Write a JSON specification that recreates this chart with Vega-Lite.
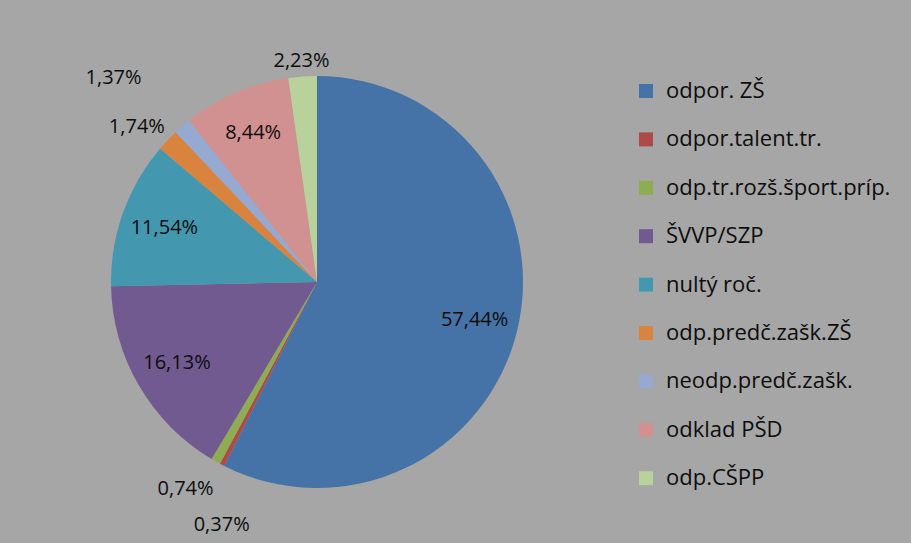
{
  "$schema": "https://vega.github.io/schema/vega-lite/v6.json",
  "autosize": {"type": "none"},
  "width": 616,
  "height": 522,
  "padding": {"left": 9, "top": 21, "right": 286, "bottom": 0},
  "background": "#a6a6a6",
  "config": {"view": {"stroke": null}, "font": "Open Sans"},
  "data": {
    "values": [
      {"idx": 1, "kat": "odpor. ZŠ", "pct": 57.44, "label": "57,44%"},
      {"idx": 2, "kat": "odpor.talent.tr.", "pct": 0.37, "label": "0,37%"},
      {"idx": 3, "kat": "odp.tr.rozš.šport.príp.", "pct": 0.74, "label": "0,74%"},
      {"idx": 4, "kat": "ŠVVP/SZP", "pct": 16.13, "label": "16,13%"},
      {"idx": 5, "kat": "nultý roč.", "pct": 11.54, "label": "11,54%"},
      {"idx": 6, "kat": "odp.predč.zašk.ZŠ", "pct": 1.74, "label": "1,74%"},
      {"idx": 7, "kat": "neodp.predč.zašk.", "pct": 1.37, "label": "1,37%"},
      {"idx": 8, "kat": "odklad PŠD", "pct": 8.44, "label": "8,44%"},
      {"idx": 9, "kat": "odp.CŠPP", "pct": 2.23, "label": "2,23%"}
    ]
  },
  "encoding": {
    "theta": {"field": "pct", "type": "quantitative", "stack": true},
    "order": {"field": "idx", "type": "quantitative"}
  },
  "layer": [
    {
      "mark": {"type": "arc", "outerRadius": 206},
      "encoding": {
        "color": {
          "field": "kat",
          "type": "nominal",
          "sort": null,
          "scale": {
            "domain": ["odpor. ZŠ", "odpor.talent.tr.", "odp.tr.rozš.šport.príp.", "ŠVVP/SZP", "nultý roč.", "odp.predč.zašk.ZŠ", "neodp.predč.zašk.", "odklad PŠD", "odp.CŠPP"],
            "range": ["#4573a7", "#ae4b48", "#8eac52", "#715a8f", "#4398af", "#d9833f", "#96a9d1", "#d19191", "#b9d19a"]
          },
          "legend": {
            "orient": "none",
            "legendX": 626,
            "legendY": 59,
            "title": null,
            "padding": 0,
            "symbolType": "square",
            "symbolSize": 196,
            "symbolStrokeWidth": 0,
            "symbolOpacity": 1,
            "labelFont": "Open Sans",
            "labelFontSize": 22,
            "labelColor": "#0d0d0d",
            "labelOffset": 9,
            "rowPadding": 26.4,
            "labelLimit": 400
          }
        }
      }
    },
    {
      "mark": {"type": "text", "radius": 162, "fontSize": 20, "color": "#0d0d0d"},
      "encoding": {"text": {"condition": {"test": "indexof([1,4,5,8], datum.idx) >= 0", "field": "label"}, "value": ""}}
    },
    {
      "mark": {"type": "text", "radius": 222, "fontSize": 20, "color": "#0d0d0d"},
      "encoding": {"text": {"condition": {"test": "datum.idx == 9", "field": "label"}, "value": ""}}
    },
    {
      "mark": {"type": "text", "radius": 225, "fontSize": 20, "color": "#0d0d0d", "dx": -17},
      "encoding": {"text": {"condition": {"test": "datum.idx == 6", "field": "label"}, "value": ""}}
    },
    {
      "mark": {"type": "text", "radius": 288, "fontSize": 20, "color": "#0d0d0d", "dx": -15, "dy": 14},
      "encoding": {"text": {"condition": {"test": "datum.idx == 7", "field": "label"}, "value": ""}}
    },
    {
      "mark": {"type": "text", "radius": 245, "fontSize": 20, "color": "#0d0d0d", "dx": -11, "dy": -6},
      "encoding": {"text": {"condition": {"test": "datum.idx == 3", "field": "label"}, "value": ""}}
    },
    {
      "mark": {"type": "text", "radius": 261, "fontSize": 20, "color": "#0d0d0d", "dx": 25, "dy": 11},
      "encoding": {"text": {"condition": {"test": "datum.idx == 2", "field": "label"}, "value": ""}}
    }
  ]
}
